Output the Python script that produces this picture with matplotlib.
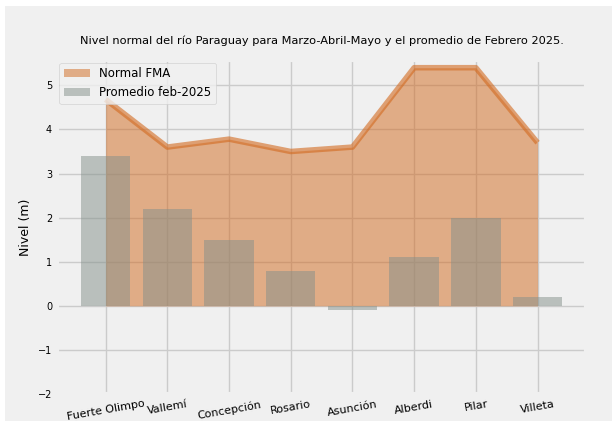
import numpy as np
import matplotlib.pyplot as plt
from matplotlib.patches import Rectangle

plt.style.use('fivethirtyeight')

estaciones = ['Fuerte Olimpo', 'Vallemí', 'Concepción', 'Rosario', 'Asunción', 'Alberdi', 'Pilar', 'Villeta']
normal_fma = [4.68, 3.6, 3.78, 3.5, 3.6, 5.4, 5.4, 3.7]
promedio_feb = [3.4, 2.2, 1.5, 0.8, -0.1, 1.1, 2.0, 0.2]

x = np.arange(len(estaciones))

fig = plt.figure(figsize=(6.12, 4.21), dpi=100, facecolor='white')
fig.patches.append(Rectangle((5 / 612, 0), 1, 1 - 6 / 421, transform=fig.transFigure,
                             facecolor='#f0f0f0', edgecolor='none', zorder=-1))
ax = fig.add_axes([0.093, 0.064, 0.865, 0.793])
ax.set_facecolor('#f0f0f0')

ax.fill_between(x, normal_fma, color='#d2691e', alpha=0.5, linewidth=0, label='Normal FMA')
ax.plot(x, normal_fma, color='#d2691e', alpha=0.6, linewidth=4)
ax.bar(x, promedio_feb, width=0.8, color='#83908a', alpha=0.5, label='Promedio feb-2025')

ax.set_ylim(-2, 5.57)
ax.set_yticks(range(-2, 6))
ax.set_xticks(x)
ax.set_xticklabels(estaciones, rotation=10, fontsize=8)
ax.tick_params(axis='y', labelsize=7)
ax.set_ylabel('Nivel (m)', fontsize=9)
ax.set_title('Nivel normal del río Paraguay para Marzo-Abril-Mayo y el promedio de Febrero 2025.',
             fontsize=8.2, pad=12)
ax.grid(True, color='#cbcbcb', linewidth=1)
ax.legend(loc='upper left', fontsize=8.5, facecolor='#f0f0f0', framealpha=0.8,
          borderaxespad=0.2, handlelength=2.2)

plt.savefig('out.png', dpi=100, facecolor=fig.get_facecolor())
